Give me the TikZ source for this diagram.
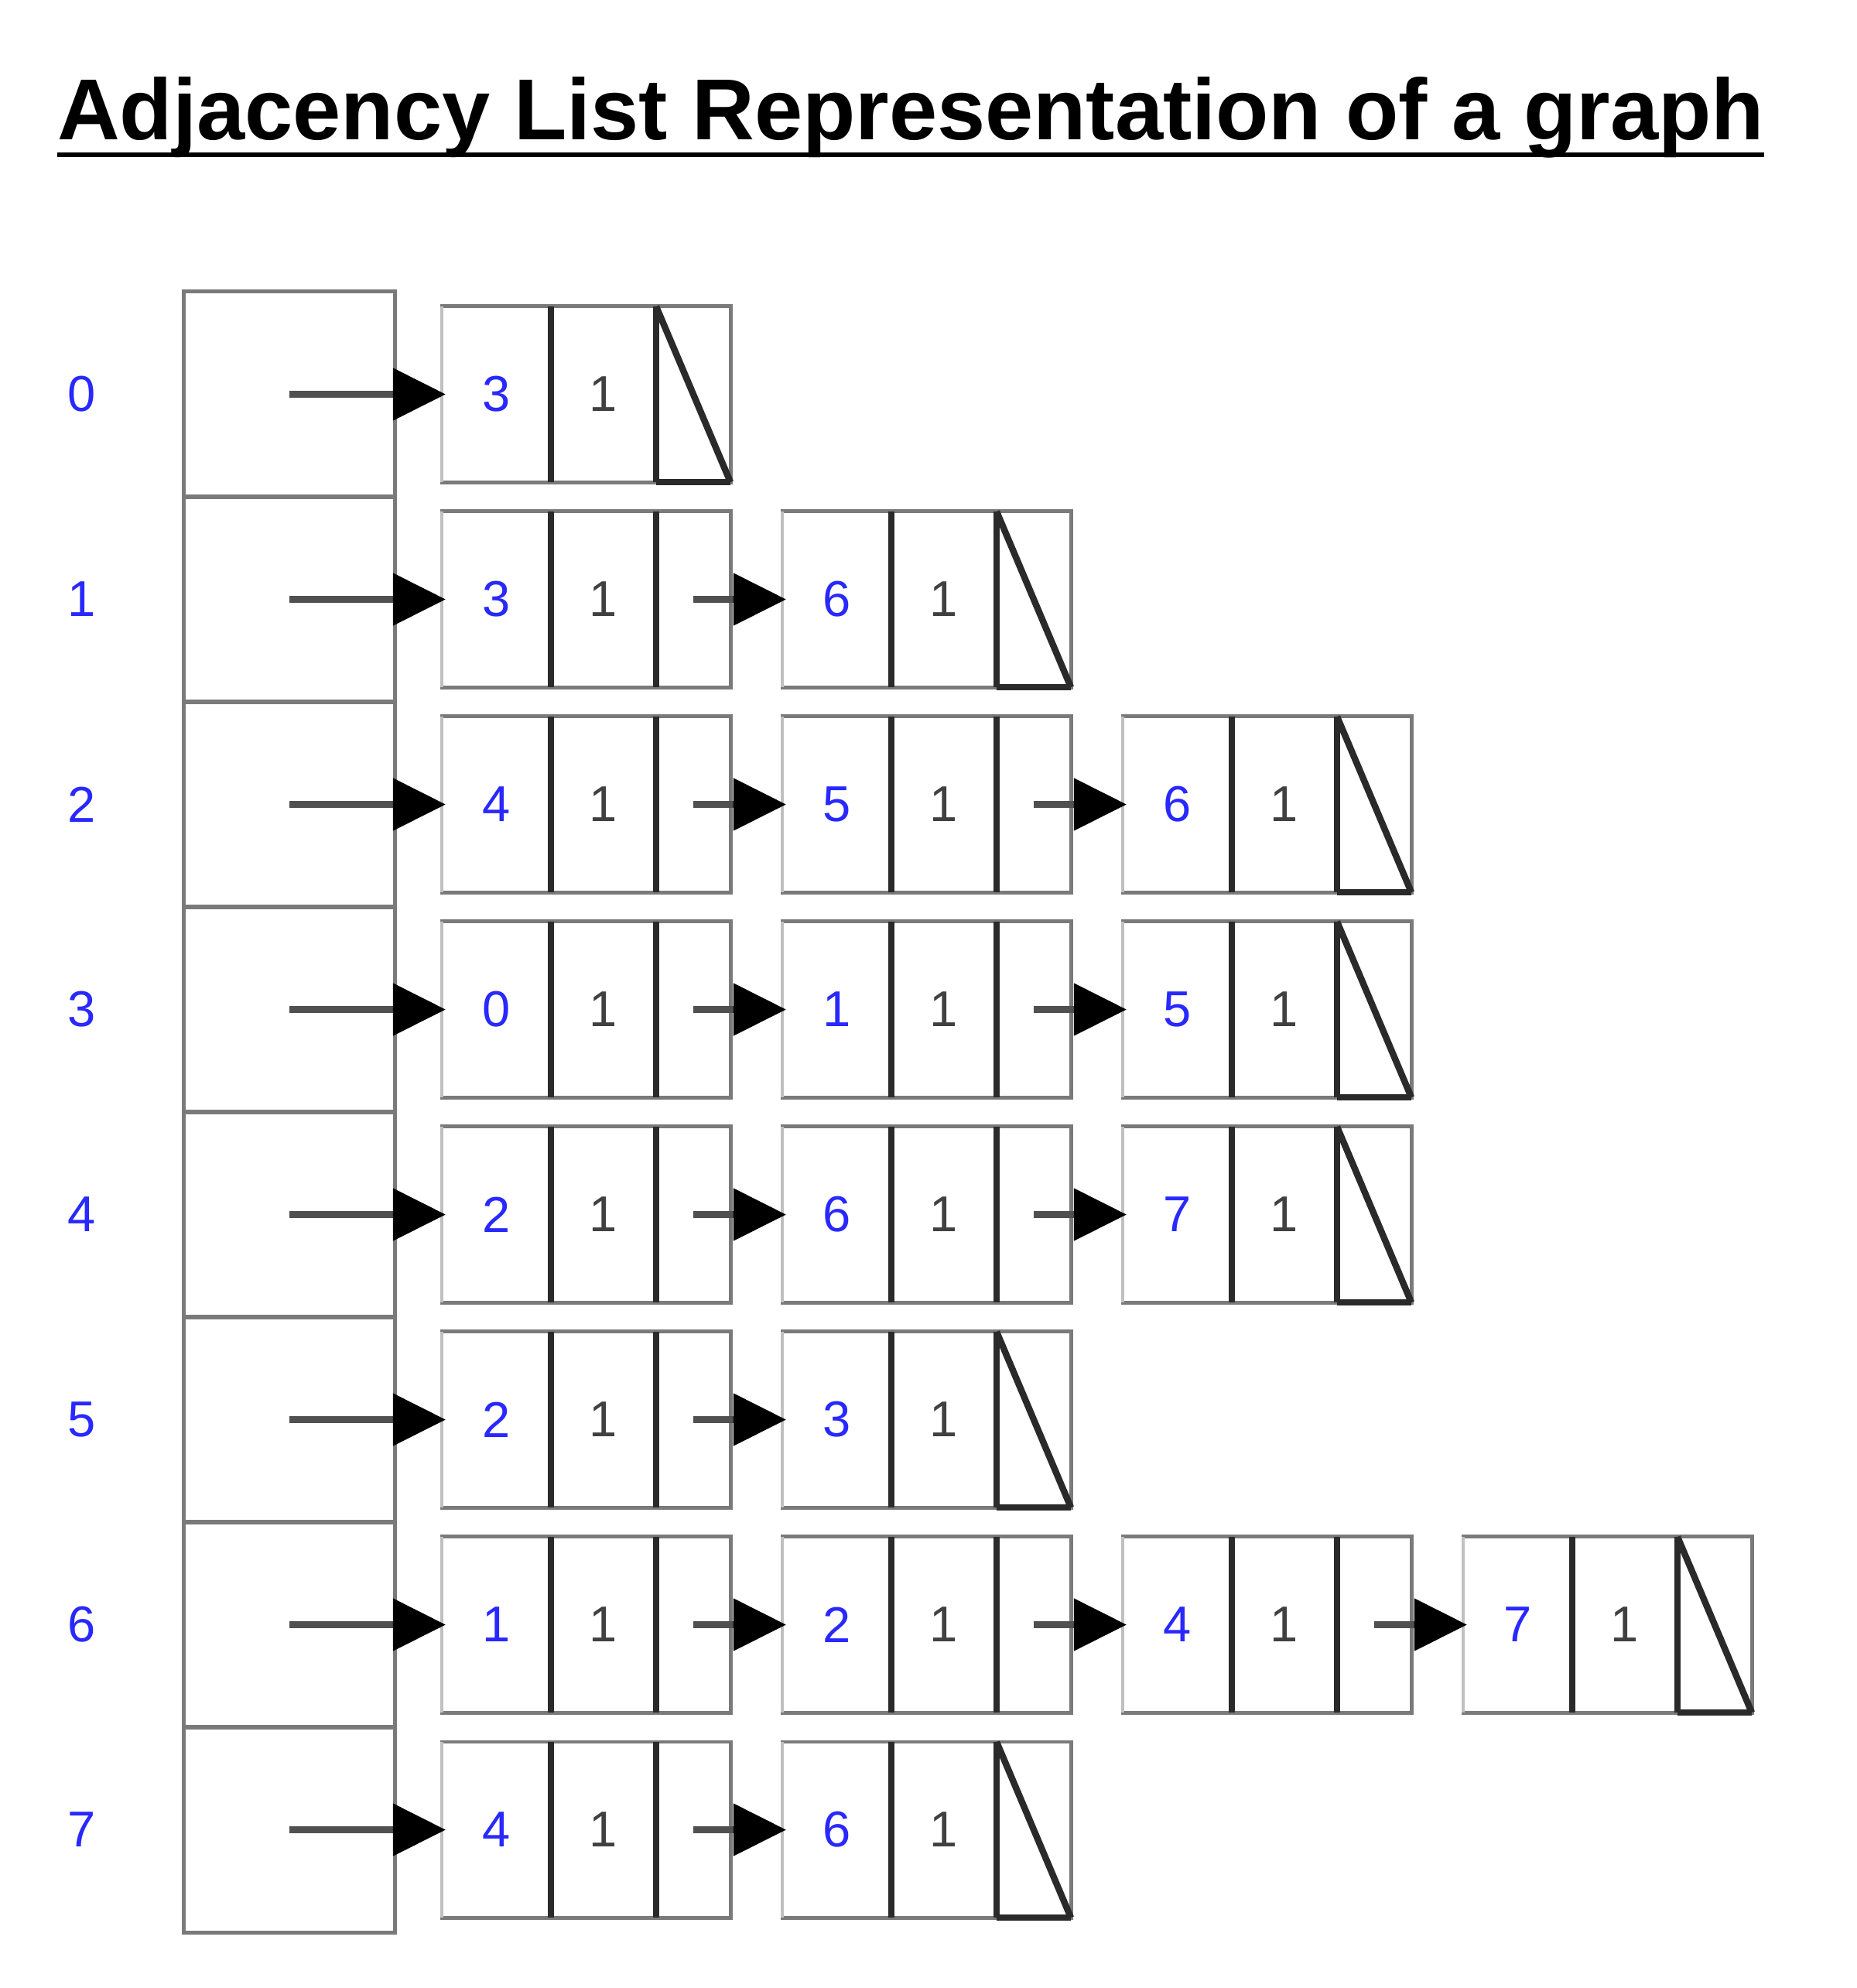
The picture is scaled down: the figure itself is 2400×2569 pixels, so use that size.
\documentclass[tikz,border=0pt]{standalone}
\usepackage{fontspec}
\setmainfont{Liberation Sans}
\usetikzlibrary{arrows.meta}
\definecolor{idxblue}{RGB}{40,40,255}
\definecolor{wgray}{RGB}{64,64,64}
\definecolor{outergray}{RGB}{122,122,122}
\definecolor{divdark}{RGB}{42,42,42}
\definecolor{linkgray}{RGB}{80,80,80}
\definecolor{lightedge}{RGB}{192,192,192}
\begin{document}
\begin{tikzpicture}[x=0.01cm,y=-0.01cm,
  titlestyle/.style={anchor=base west,inner sep=0,outer sep=0,font=\bfseries\fontsize{31.8}{32}\selectfont},
  uline/.style={line width=1.7pt,draw=black},
  digitfont/.style={font=\fontsize{18.5}{19}\selectfont},
  headbox/.style={draw=outergray,line width=1.4pt,minimum width=2.72cm,minimum height=2.65cm,inner sep=0,outer sep=0},
  idxlabel/.style={digitfont,text=idxblue,inner sep=0},
  cellv/.style={draw=outergray,line width=1.4pt,minimum width=1.41cm,minimum height=2.27cm,inner sep=0,outer sep=0,digitfont,text=idxblue},
  cellw/.style={draw=outergray,line width=1.4pt,minimum width=1.36cm,minimum height=2.27cm,inner sep=0,outer sep=0,digitfont,text=wgray},
  cellp/.style={draw=outergray,line width=1.4pt,minimum width=0.96cm,minimum height=2.27cm,inner sep=0,outer sep=0},
  divider/.style={draw=divdark,line width=2.4pt},
  leftedge/.style={draw=lightedge,line width=1.4pt},
  link/.style={draw=linkgray,line width=2.3pt,shorten >=-0.05cm,-{Triangle[length=0.68cm,width=0.66cm,color=black]}}
]
\useasboundingbox (0,0) rectangle (2400,2569);
\fill[white] (0,0) rectangle (2400,2569);
\node[titlestyle] (title) at (74,180) {Adjacency List Representation of a graph};
\draw[uline] ([yshift=-0.2cm]title.base west) -- ([yshift=-0.2cm]title.base east);
\foreach \r/\len/\lst in {0/1/{3},1/2/{3,6},2/3/{4,5,6},3/3/{0,1,5},4/3/{2,6,7},5/2/{2,3},6/4/{1,2,4,7},7/2/{4,6}}{
  \pgfmathsetmacro\cy{509.5+265*\r}
  \node[headbox] (h\r) at (374,\cy) {};
  \node[idxlabel] (i\r) at (106,\cy) {\r};
  \foreach \v [count=\k] in \lst {
    \pgfmathsetmacro\bx{571+440*(\k-1)}
    \node[cellv] (v\r-\k) at (\bx+70.5,\cy) {\v};
    \node[cellw] (w\r-\k) at (\bx+209,\cy) {1};
    \node[cellp] (p\r-\k) at (\bx+325,\cy) {};
    \draw[leftedge] (v\r-\k.north west) -- (v\r-\k.south west);
    \draw[divider] (v\r-\k.north east) -- (v\r-\k.south east);
    \draw[divider] (w\r-\k.north east) -- (w\r-\k.south east);
    \ifnum\k=\len
      \draw[divider] (p\r-\k.north west) -- (p\r-\k.south east);
      \draw[divider] (p\r-\k.south west) -- (p\r-\k.south east);
    \fi
    \ifnum\k=1
      \draw[link] (h\r.center) -- (v\r-\k.west);
    \else
      \pgfmathtruncatemacro\pr{\k-1}
      \draw[link] (p\r-\pr.center) -- (v\r-\k.west);
    \fi
  }
}
\end{tikzpicture}
\end{document}
